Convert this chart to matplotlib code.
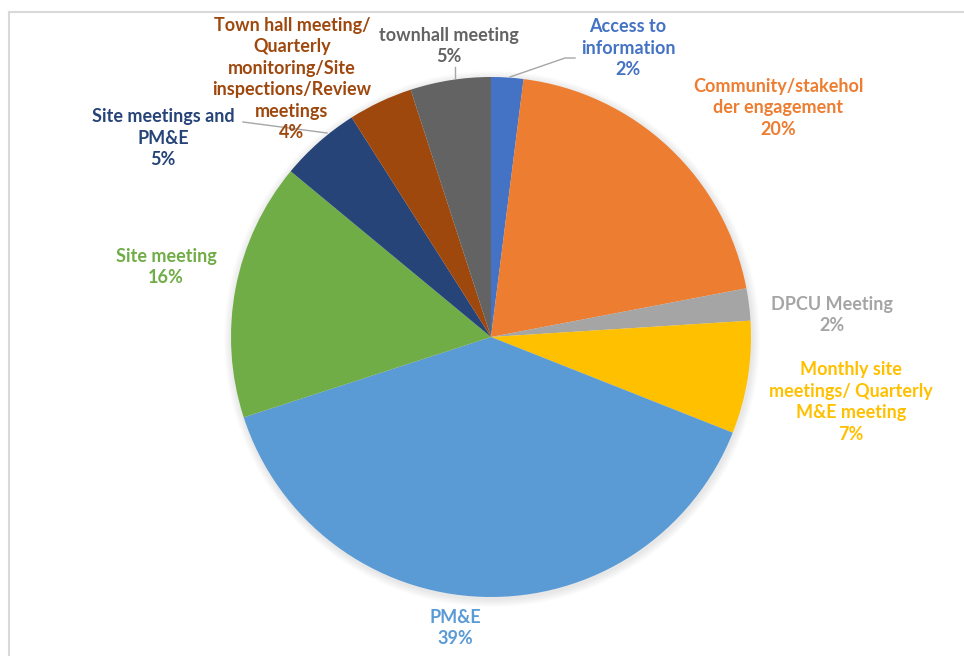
import matplotlib.pyplot as plt
from matplotlib.patches import Circle

# share of engagement by activity type
labels = ['Access to\ninformation', 'Community/stakehol\nder engagement', 'DPCU Meeting',
          'Monthly site\nmeetings/ Quarterly\nM&E meeting', 'PM&E', 'Site meeting',
          'Site meetings and\nPM&E',
          'Town hall meeting/\nQuarterly\nmonitoring/Site\ninspections/Review\nmeetings',
          'townhall meeting']
values = [2, 20, 2, 7, 39, 16, 5, 4, 5]

colors = ['#4472C4', '#ED7D31', '#A5A5A5', '#FFC000', '#5B9BD5', '#70AD47',
          '#264478', '#9E480E', '#636363']
text_colors = ['#4472C4', '#ED7D31', '#A5A5A5', '#FFC000', '#5B9BD5', '#70AD47',
               '#264478', '#9E480E', '#636363']

W, H = 964, 656
cx, cy, R = 491, H - 337, 260

# label centres in pixels (y measured from top)
label_pos = [(628, 48), (778, 108), (832, 315), (851, 402), (455, 628),
             (166, 267), (163, 138), (292, 79), (449, 46)]

fig = plt.figure(figsize=(W / 100, H / 100), dpi=100)
ax = fig.add_axes([0, 0, 1, 1])

# soft shadow under the pie
for k in range(8):
    ax.add_patch(Circle((cx + 1, cy - 2), R + 8 - k, color='black', alpha=0.012, lw=0, zorder=0))

ax.pie(values, colors=colors, startangle=90, counterclock=False, center=(cx, cy), radius=R,
       wedgeprops=dict(linewidth=0), frame=True)
ax.set_xlim(0, W)
ax.set_ylim(0, H)
ax.set_aspect('equal')
ax.axis('off')

total = sum(values)
for lab, v, c, (x, y) in zip(labels, values, text_colors, label_pos):
    ax.text(x, H - y, f'{lab}\n{v / total * 100:.0f}%', ha='center', va='center', color=c,
            fontsize=13, fontweight='bold', family='Lato', linespacing=1.32)

# leader lines
lc = '#A6A6A6'
ax.plot([510, 565, 575], [H - 77, H - 58, H - 58], color=lc, lw=1)
ax.plot([455, 455], [H - 67, H - 78], color=lc, lw=1)
ax.plot([243, 327], [H - 122, H - 133], color=lc, lw=1)

# chart frame
ax.plot([8.5, W], [H - 11.5, H - 11.5], color='#D9D9D9', lw=1.5)
ax.plot([8.5, 8.5], [H - 11.5, 0], color='#D9D9D9', lw=1.5)

fig.savefig('out.png', dpi=100)
